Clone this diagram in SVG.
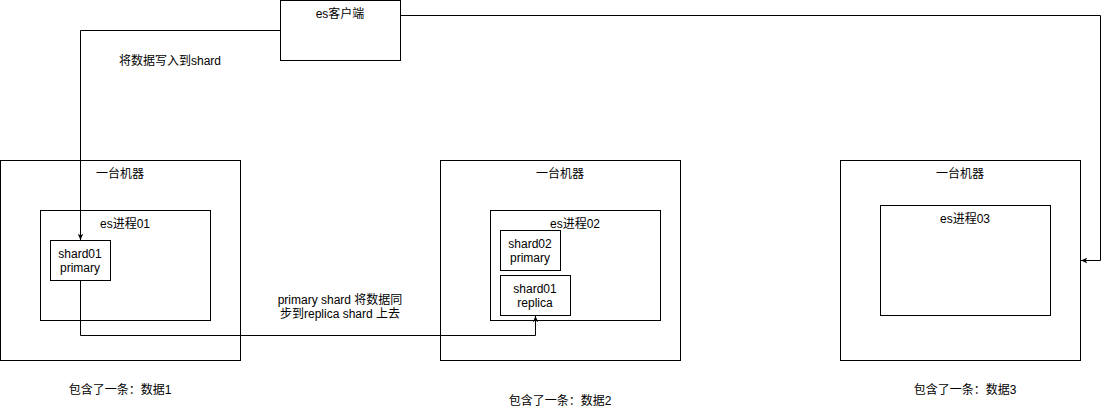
<svg xmlns="http://www.w3.org/2000/svg" width="1109" height="411" viewBox="0 0 1109 411">
<defs>
<style>
.box{fill:#fff;stroke:#000;stroke-width:1}
.t{font-family:"Liberation Sans","Noto Sans CJK SC",sans-serif;font-size:12px;fill:#000;text-anchor:middle}
.c{fill:none;stroke:#000;stroke-width:1}
</style>
<marker id="arr" viewBox="0 0 10 10" refX="9" refY="5" markerWidth="7" markerHeight="7" orient="auto" markerUnits="userSpaceOnUse">
<path d="M0,1 L9,5 L0,9 L2.5,5 Z" fill="#000"/>
</marker>
</defs>
<rect width="1109" height="411" fill="#fff"/>
<g id="machine1">
<rect class="box" x="0.5" y="160.5" width="240" height="200"/>
<text class="t" x="120" y="178">一台机器</text>
</g>
<g id="proc01">
<rect class="box" x="40.5" y="210.5" width="170" height="110"/>
<text class="t" x="125" y="228">es进程01</text>
</g>
<g id="shard01p">
<rect class="box" x="50.5" y="240.5" width="60" height="40"/>
<text class="t" x="80" y="258">shard01</text>
<text class="t" x="80" y="272">primary</text>
</g>
<g id="machine2">
<rect class="box" x="440.5" y="160.5" width="240" height="200"/>
<text class="t" x="560" y="178">一台机器</text>
</g>
<g id="proc02">
<rect class="box" x="490.5" y="210.5" width="170" height="110"/>
<text class="t" x="575" y="228">es进程02</text>
</g>
<g id="shard02p">
<rect class="box" x="500.5" y="230.5" width="60" height="40"/>
<text class="t" x="530" y="248">shard02</text>
<text class="t" x="530" y="262">primary</text>
</g>
<g id="shard01r">
<rect class="box" x="500.5" y="275.5" width="70" height="40"/>
<text class="t" x="535" y="293">shard01</text>
<text class="t" x="535" y="307">replica</text>
</g>
<g id="machine3">
<rect class="box" x="840.5" y="160.5" width="240" height="200"/>
<text class="t" x="960" y="178">一台机器</text>
</g>
<g id="proc03">
<rect class="box" x="880.5" y="205.5" width="170" height="110"/>
<text class="t" x="965" y="223">es进程03</text>
</g>
<g id="client">
<rect class="box" x="280.5" y="0.5" width="120" height="60"/>
<text class="t" x="340" y="18">es客户端</text>
</g>
<g id="connectors">
<path class="c" d="M280.5,30.5 H80.5 V240" marker-end="url(#arr)"/>
<path class="c" d="M400.5,15.5 H1100.5 V260.5 H1081" marker-end="url(#arr)"/>
<path class="c" d="M80.5,280.5 V335.5 H535.5 V316" marker-end="url(#arr)"/>
<text class="t" x="170" y="65">将数据写入到shard</text>
<text class="t" x="340" y="304">primary shard 将数据同</text>
<text class="t" x="340" y="318">步到replica shard 上去</text>
</g>
<g id="labels">
<text class="t" x="120" y="394">包含了一条：数据1</text>
<text class="t" x="560" y="405">包含了一条：数据2</text>
<text class="t" x="965" y="394">包含了一条：数据3</text>
</g>
</svg>
